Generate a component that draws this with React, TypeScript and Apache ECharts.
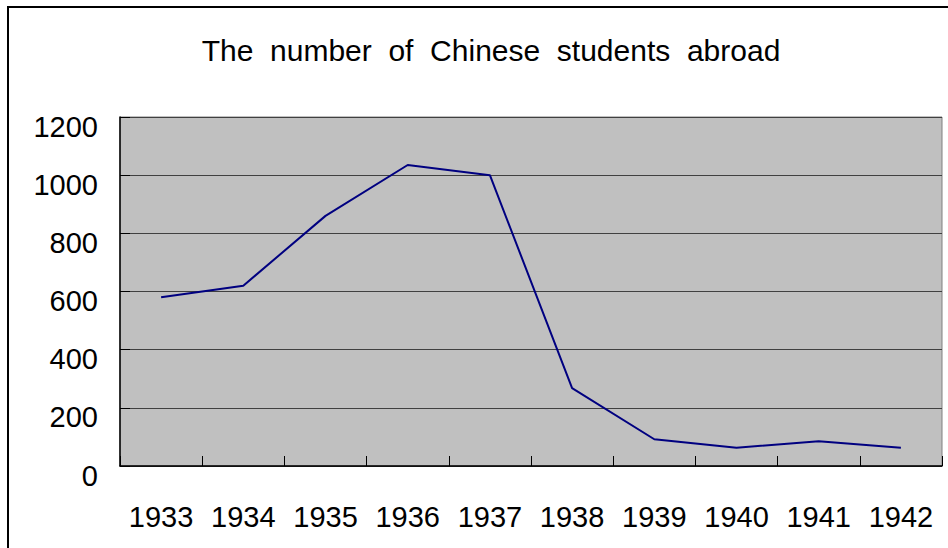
import React, { useEffect, useRef } from "react";
import * as echarts from "echarts";

const years = ["1933", "1934", "1935", "1936", "1937", "1938", "1939", "1940", "1941", "1942"];
const students = [580, 620, 860, 1035, 1000, 268, 92, 63, 85, 63];
const titleText = "The  number  of  Chinese  students  abroad";

export default function App() {
  const ref = useRef<HTMLDivElement>(null);
  useEffect(() => {
    document.body.style.margin = "0";
    const chart = echarts.init(ref.current!, null, { renderer: "svg" });
    const font = "'Liberation Sans', Arial, sans-serif";
    chart.setOption({
      animation: false,
      backgroundColor: "#ffffff",
      title: {
        text: titleText,
        left: 486,
        top: 30,
        textAlign: "center",
        textStyle: { fontFamily: font, fontSize: 30, fontWeight: "normal", color: "#000" },
      },
      graphic: [
        {
          type: "rect",
          shape: { x: 8, y: 7, width: 980, height: 600 },
          style: { fill: "none", stroke: "#000", lineWidth: 2 },
          silent: true,
        },
      ],
      grid: {
        left: 120,
        top: 117,
        right: 6,
        bottom: 82,
        show: true,
        backgroundColor: "#c0c0c0",
        borderColor: "#808080",
        borderWidth: 1,
      },
      xAxis: {
        type: "category",
        data: years,
        boundaryGap: true,
        axisLine: { show: true, lineStyle: { color: "#000", width: 1.5 } },
        axisTick: { show: true, inside: true, length: 10, interval: 0, lineStyle: { color: "#000" } },
        axisLabel: { fontFamily: font, fontSize: 29, color: "#000", margin: 36, interval: 0, hideOverlap: false },
        splitLine: { show: false },
      },
      yAxis: {
        type: "value",
        min: 0,
        max: 1200,
        interval: 200,
        axisLine: { show: true, lineStyle: { color: "#000", width: 1.5 } },
        axisTick: { show: true, inside: true, length: 10, lineStyle: { color: "#000" } },
        axisLabel: {
          fontFamily: font,
          fontSize: 29,
          color: "#000",
          margin: 22,
          verticalAlign: "top",
          lineHeight: 19,
          formatter: (v: number) => String(v),
        },
        splitLine: { show: true, lineStyle: { color: "#404040", width: 1 } },
      },
      series: [
        {
          type: "line",
          data: students,
          symbol: "none",
          lineStyle: { color: "#000080", width: 2 },
        },
      ],
    });
    return () => chart.dispose();
  }, []);
  return <div ref={ref} style={{ width: 948, height: 548 }} />;
}
